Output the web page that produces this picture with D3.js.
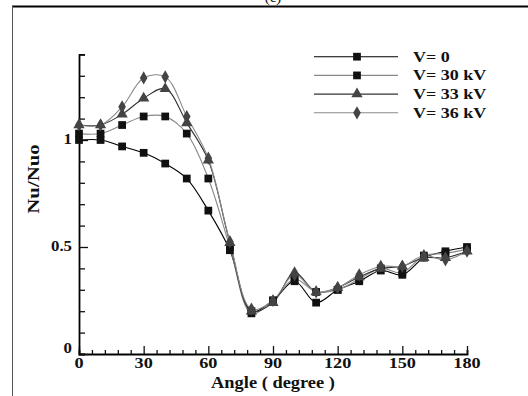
<!DOCTYPE html>
<html>
<head>
<title>Nu/Nuo vs Angle</title>
<style>
body { margin: 0; background: #fff; }
svg { display: block; }
.lbl { font-family: "Liberation Serif", "Times New Roman", serif; font-weight: bold; fill: #111; }
</style>
<script src="https://d3js.org/d3.v7.min.js"></script>
</head>
<body>
<svg id="chart" width="528" height="396"></svg>
<script>

// data
var angles = [0, 10, 20, 30, 40, 50, 60, 70, 80, 90, 100, 110, 120, 130, 140, 150, 160, 170, 180];
var nu_v0  = [1.00, 1.00, 0.97, 0.94, 0.89, 0.82, 0.67, 0.485, 0.20, 0.25, 0.34, 0.24, 0.30, 0.34, 0.39, 0.37, 0.45, 0.48, 0.50];
var nu_v30 = [1.03, 1.03, 1.07, 1.11, 1.11, 1.03, 0.82, 0.50, 0.19, 0.25, 0.35, 0.29, 0.30, 0.35, 0.40, 0.38, 0.46, 0.47, 0.49];
var nu_v33 = [1.07, 1.07, 1.12, 1.195, 1.24, 1.08, 0.905, 0.52, 0.20, 0.24, 0.38, 0.29, 0.31, 0.36, 0.40, 0.41, 0.45, 0.45, 0.48];
var nu_v36 = [1.07, 1.07, 1.155, 1.29, 1.295, 1.11, 0.915, 0.525, 0.21, 0.25, 0.37, 0.29, 0.31, 0.37, 0.41, 0.41, 0.46, 0.44, 0.48];
var seriesNames = ["V= 0", "V= 30 kV", "V= 33 kV", "V= 36 kV"];
var xTicks = [0, 30, 60, 90, 120, 150, 180];
var yTicks = [0, 0.5, 1];

var series = [
  {name: seriesNames[0], values: nu_v0,  line: "#000", fill: "#111", sym: d3.symbolSquare,  size: 60},
  {name: seriesNames[1], values: nu_v30, line: "#888", fill: "#111", sym: d3.symbolSquare,  size: 60},
  {name: seriesNames[2], values: nu_v33, line: "#333", fill: "#444", sym: d3.symbolTriangle, size: 55},
  {name: seriesNames[3], values: nu_v36, line: "#8a8a8a", fill: "#444", sym: d3.symbolDiamond, size: 50}
];

var svg = d3.select("#chart");

// stretch text a bit wider, the original looks squashed sideways
function widen(sel, k) {
  sel.each(function() {
    var len = this.getComputedTextLength();
    d3.select(this).attr("textLength", len * k).attr("lengthAdjust", "spacingAndGlyphs");
  });
}

// frame
svg.append("line").attr("x1", 12).attr("x2", 528).attr("y1", 6.5).attr("y2", 6.5)
  .attr("stroke", "#000").attr("stroke-width", 2);
svg.append("line").attr("x1", 12.5).attr("x2", 12.5).attr("y1", 6).attr("y2", 396)
  .attr("stroke", "#555").attr("stroke-width", 1);

// panel label, cut by the top edge as in the original
svg.append("text").attr("class", "lbl").attr("x", 273).attr("y", 2)
  .attr("text-anchor", "middle").style("font-size", "15px").style("font-weight", "normal").text("(c)");

var x = d3.scaleLinear().domain([0, 180]).range([79, 467]);
var y = d3.scaleLinear().domain([0, 1.4]).range([354, 54.4]);

// axes
var xAxis = svg.append("g").attr("transform", "translate(0," + y(0) + ")");
xAxis.call(d3.axisTop(x).tickValues(d3.range(0, 181, 6)).tickSize(4).tickFormat(""));
xAxis.selectAll(".tick line").filter(function(d) { return d % 30 == 0; }).attr("y2", -8);
xAxis.selectAll(".tick line").attr("stroke", "#111").attr("stroke-width", 1.3);
xAxis.select(".domain").attr("stroke", "#000").attr("stroke-width", 1.8);

var yAxis = svg.append("g").attr("transform", "translate(" + x(0) + ",0)");
yAxis.call(d3.axisRight(y).tickValues(d3.range(0, 15).map(function(i) { return i / 10; })).tickSize(6).tickFormat(""));
yAxis.selectAll(".tick line").filter(function(d) { return Math.abs(d * 2 - Math.round(d * 2)) < 1e-6; }).attr("x2", 9);
yAxis.selectAll(".tick line").attr("stroke", "#111").attr("stroke-width", 1.3);
yAxis.select(".domain").attr("stroke", "#000").attr("stroke-width", 1.8);

// tick labels
svg.selectAll(".xlab").data(xTicks).join("text").attr("class", "lbl xlab")
  .attr("x", function(d) { return x(d); }).attr("y", 368)
  .attr("text-anchor", "middle").style("font-size", "14px")
  .text(function(d) { return d; }).call(widen, 1.3);

svg.selectAll(".ylab").data(yTicks).join("text").attr("class", "lbl ylab")
  .attr("x", 72).attr("y", function(d) { return y(d) + (d == 0 ? -1 : 4); })
  .attr("text-anchor", "end").style("font-size", "14px")
  .text(function(d) { return d; }).call(widen, 1.2);

svg.append("text").attr("class", "lbl").attr("x", 273).attr("y", 388)
  .attr("text-anchor", "middle").style("font-size", "16px")
  .text("Angle ( degree )").call(widen, 1.15);

svg.append("text").attr("class", "lbl")
  .attr("transform", "translate(39,179) rotate(-90)")
  .attr("text-anchor", "middle").style("font-size", "16px")
  .text("Nu/Nuo").call(widen, 1.3);

// curves
var line = d3.line()
  .x(function(d, i) { return x(angles[i]); })
  .y(function(d) { return y(d); })
  .curve(d3.curveCatmullRom.alpha(0.5));

series.forEach(function(s) {
  svg.append("path").datum(s.values)
    .attr("fill", "none").attr("stroke", s.line).attr("stroke-width", 1.1)
    .attr("d", line);
});

series.forEach(function(s) {
  svg.append("g").selectAll("path").data(s.values).join("path")
    .attr("transform", function(d, i) { return "translate(" + x(angles[i]) + "," + y(d) + ")"; })
    .attr("d", d3.symbol().type(s.sym).size(s.size))
    .attr("fill", s.fill);
});

// legend
var leg = svg.append("g");
series.forEach(function(s, i) {
  var ly = 56.7 + i * 18.7;
  leg.append("line").attr("x1", 314).attr("x2", 398).attr("y1", ly).attr("y2", ly)
    .attr("stroke", s.line).attr("stroke-width", 1.1);
  leg.append("path").attr("transform", "translate(357," + ly + ")")
    .attr("d", d3.symbol().type(s.sym).size(s.size)).attr("fill", s.fill);
  leg.append("text").attr("class", "lbl").attr("x", 413).attr("y", ly + 5)
    .style("font-size", "15px").text(s.name).call(widen, 1.2);
});

</script>
</body>
</html>
